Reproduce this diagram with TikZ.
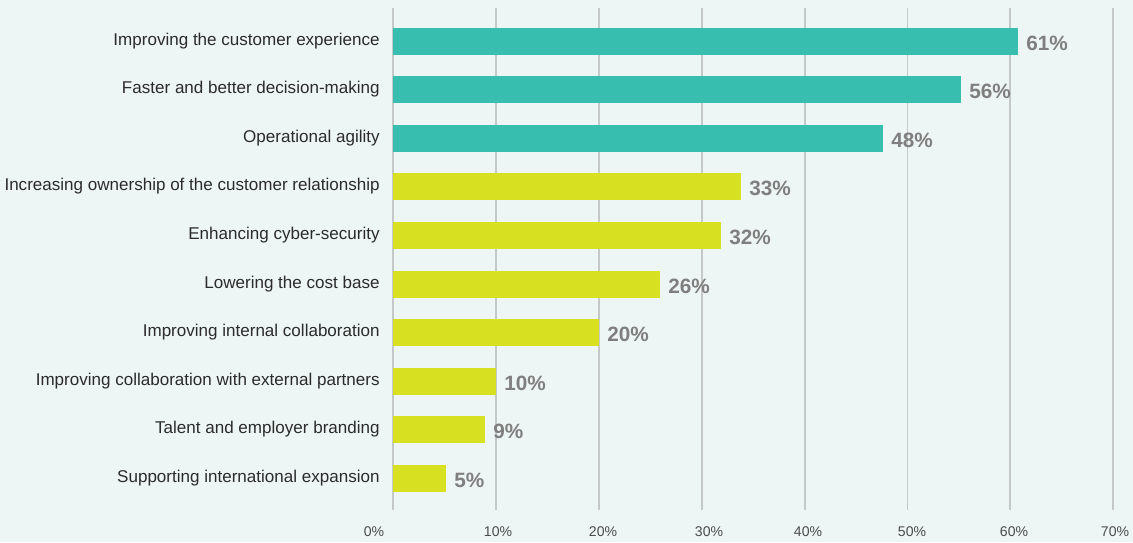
\documentclass[tikz,border=0pt]{standalone}
\usepackage{fontspec}
\setmainfont{Liberation Sans}
\usetikzlibrary{positioning}

\definecolor{bgmint}{HTML}{EDF6F4}
\definecolor{barteal}{HTML}{38BEAF}
\definecolor{baryellow}{HTML}{D7E021}
\definecolor{gridgray}{HTML}{C4C8C8}
\definecolor{valgray}{HTML}{7F7F7F}
\definecolor{textdark}{HTML}{2B2B2B}

\tikzset{
  catlabel/.style={anchor=base east, inner sep=0pt,
                   font=\fontsize{9.7}{11}\selectfont, text=textdark},
  vallabel/.style={anchor=base west, inner sep=0pt,
                   font=\fontsize{11.8}{13}\selectfont\bfseries, text=valgray},
  ticklabel/.style={anchor=base, inner sep=0pt,
                    font=\fontsize{8}{10}\selectfont, text=textdark!85},
  gridline/.style={gridgray, line width=1.1pt},
}

\begin{document}
\begin{tikzpicture}[x=0.02cm, y=-0.02cm]
    \fill[bgmint] (0,0) rectangle (1133,542);
    \useasboundingbox (0,0) rectangle (1133,542);

    % vertical grid and axis labels
    \foreach \g/\tx/\t in {0/374/0, 1/498/10, 2/603/20, 3/709/30,
                           4/808/40, 5/912/50, 6/1014/60, 7/1115/70} {
        \draw[gridline] ({393+102.9*\g},8) -- ({393+102.9*\g},510);
        \node[ticklabel] (tick\g) at (\tx,536) {\t\%};
    }

    % bars (end in px), categories and values
    \foreach \i/\v/\xe/\c/\t in {
        1/61/1018/barteal/Improving the customer experience,
        2/56/961/barteal/Faster and better decision-making,
        3/48/883/barteal/Operational agility,
        4/33/741/baryellow/Increasing ownership of the customer relationship,
        5/32/721/baryellow/Enhancing cyber-security,
        6/26/660/baryellow/Lowering the cost base,
        7/20/599/baryellow/Improving internal collaboration,
        8/10/496/baryellow/Improving collaboration with external partners,
        9/9/485/baryellow/Talent and employer branding,
        10/5/446/baryellow/Supporting international expansion} {
        \pgfmathsetmacro\yc{41.3+48.55*(\i-1)}
        \fill[\c] (393,\yc-13.5) rectangle (\xe,\yc+13.5);
        \node[catlabel] (cat\i) at (380,\yc+4) {\t};
        \node[vallabel] (val\i) at (\xe+8,\yc+9) {\v\%};
    }
\end{tikzpicture}
\end{document}
